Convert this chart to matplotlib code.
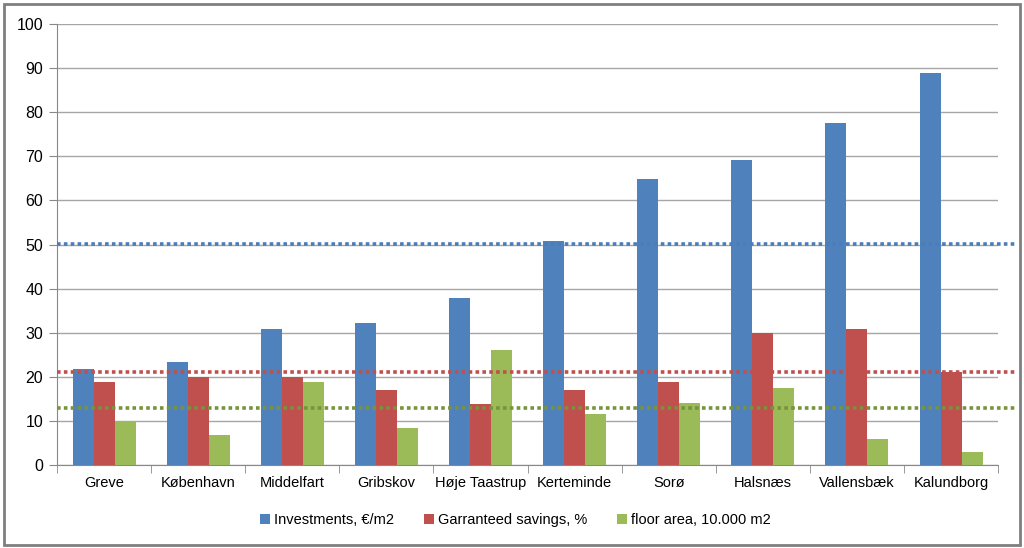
import matplotlib
matplotlib.use("Agg")
import matplotlib.pyplot as plt
import numpy as np
from matplotlib.patches import Rectangle

plt.rcParams["font.family"] = ["Liberation Sans", "DejaVu Sans"]

cities = ["Greve", "København", "Middelfart", "Gribskov", "Høje Taastrup",
          "Kerteminde", "Sorø", "Halsnæs", "Vallensbæk", "Kalundborg"]
investments = [21.7, 23.4, 30.8, 32.3, 37.9, 50.9, 64.8, 69.2, 77.6, 88.8]
savings = [18.9, 20.0, 20.0, 16.9, 13.9, 16.9, 18.9, 30.0, 30.8, 21.2]
floor_area = [10.0, 6.7, 18.9, 8.3, 26.0, 11.6, 14.0, 17.5, 5.9, 3.0]
avg_investments = 50.1
avg_savings = 21.2
avg_floor_area = 13.0

blue = "#4F81BD"
red = "#C0504D"
green = "#9BBB59"

fig = plt.figure(figsize=(10.24, 5.48), dpi=100)
ax = fig.add_axes([0.0557, 0.1515, 0.919, 0.8045])

x = np.arange(len(cities))
w = 0.223
ax.bar(x - w, investments, w, color=blue, label="Investments, €/m2", zorder=3)
ax.bar(x, savings, w, color=red, label="Garranteed savings, %", zorder=3)
ax.bar(x + w, floor_area, w, color=green, label="floor area, 10.000 m2", zorder=3)

# average lines run a bit past the plot area
ext = (1015 - 57) / (998 - 57)
for val, col in [(avg_investments, "#4A7EBB"), (avg_savings, "#C0504D"), (avg_floor_area, "#77933C")]:
    ax.axhline(val, xmin=0, xmax=ext, color=col, linestyle=(0, (1, 0.9)),
               linewidth=2.6, clip_on=False, zorder=4)

ax.set_xlim(-0.5, len(cities) - 0.5)
ax.set_ylim(0, 100)
ax.set_yticks(range(0, 101, 10))
ax.yaxis.grid(True, color="#A6A6A6", linewidth=1, zorder=0)
ax.set_xticks(x)
ax.set_xticklabels(cities, fontsize=10.5)
ax.set_xticks(np.arange(-0.5, len(cities), 1), minor=True)
ax.tick_params(axis="x", which="major", length=0, pad=8)
ax.tick_params(axis="x", which="minor", length=6, color="#888888")
ax.tick_params(axis="y", length=6, color="#888888", labelsize=11.5, pad=4)
for s in ["top", "right"]:
    ax.spines[s].set_visible(False)
for s in ["left", "bottom"]:
    ax.spines[s].set_color("#888888")

ax.legend(loc="upper center", bbox_to_anchor=(0.487, -0.08), ncol=3, frameon=False,
          fontsize=10.5, handlelength=0.7, handleheight=0.7, handletextpad=0.3,
          columnspacing=2.0)

fig.patches.append(Rectangle((0.004, 0.006), 0.992, 0.986, transform=fig.transFigure,
                             fill=False, edgecolor="#7F7F7F", linewidth=2))

fig.savefig("out.png", dpi=100)
